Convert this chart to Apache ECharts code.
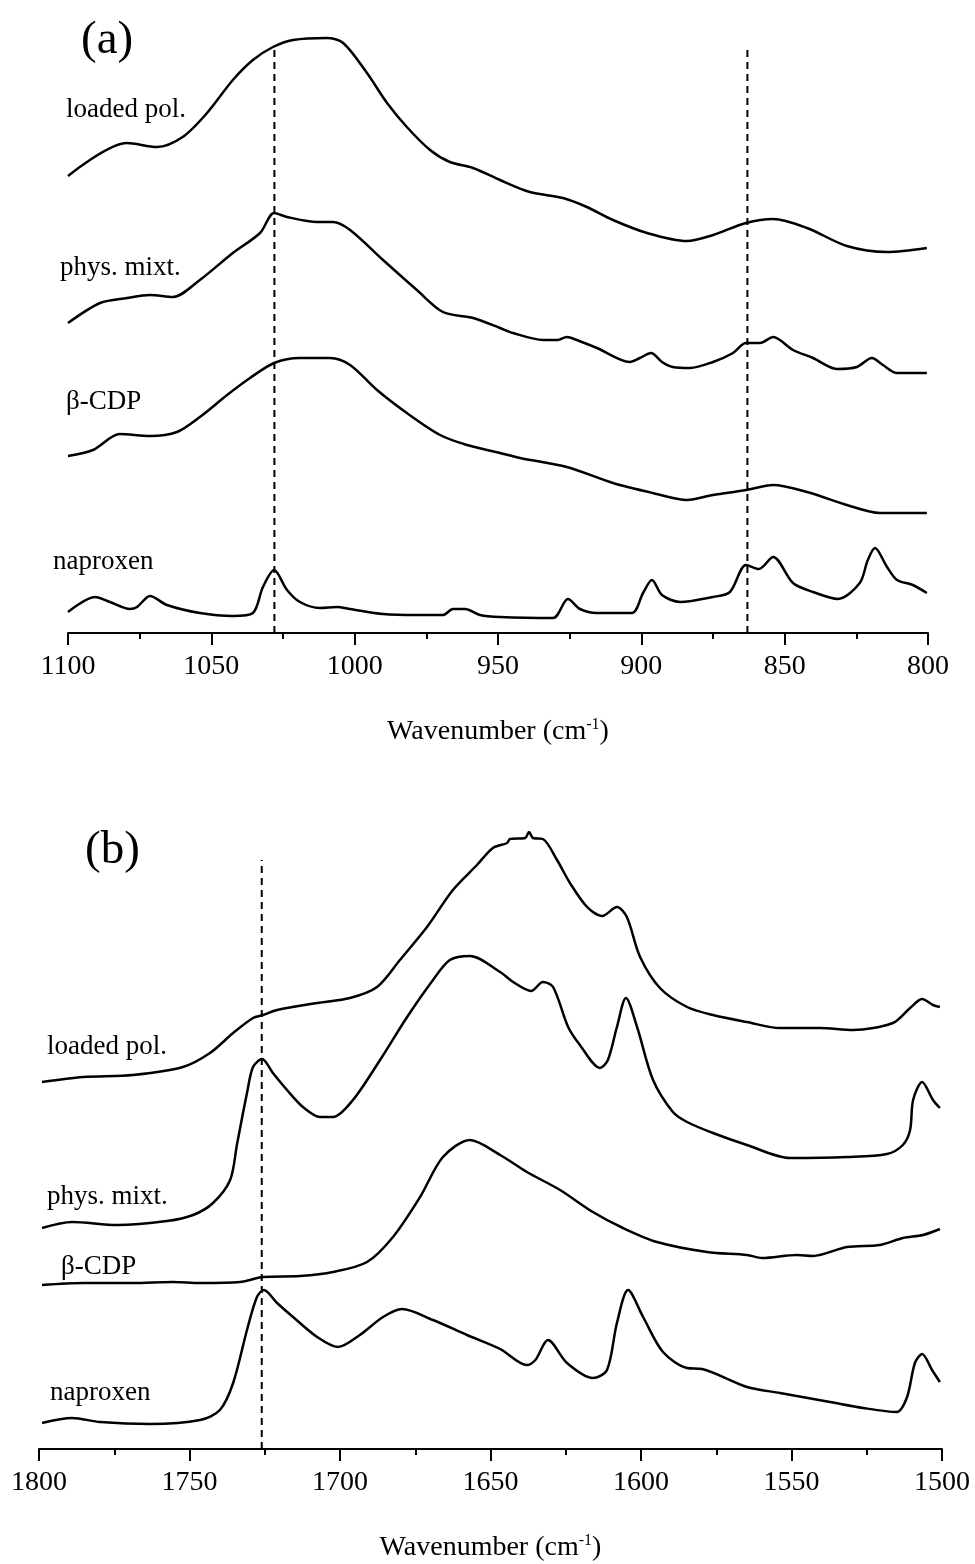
<!DOCTYPE html>
<html>
<head>
<meta charset="utf-8">
<script src="https://cdn.jsdelivr.net/npm/echarts@6/dist/echarts.min.js"></script>
<style>
  html, body { margin: 0; padding: 0; background: #fff; }
  #main { width: 975px; height: 1564px; }
</style>
</head>
<body>
<div id="main"></div>
<script>
// panel (a): 1100-800 cm-1, [wavenumber, relative absorbance]
var aLoaded = [[1100,457],[1079.4,490],[1069,486],[1060,496],[1051.5,520],[1042.5,553],[1035.5,573],[1028.5,586],[1021.5,593],[1009.7,595],[1004,590],[995.7,560],[988.7,530],[981.8,506],[973.7,483],[966.8,471],[958.7,465],[949.3,453],[938.9,441],[927.3,435],[919,426],[909.9,413],[898,400],[884.1,392],[875,398],[863.5,410],[854,414],[842.2,405],[828.3,387],[814.3,381],[800.4,385]];
var aPhys = [[1100,310],[1088.8,330],[1079.4,335],[1071.4,338],[1063.4,336],[1054,353],[1042.5,380],[1033,400],[1028.1,420],[1023.6,416],[1013.1,411],[1007.6,411],[1001.6,403],[990.1,373],[978.3,343],[969.2,321],[958.7,315],[949.3,305],[944.8,300],[934.3,293],[929.1,293],[926,296],[922.5,293],[915.5,285],[904,271],[900.5,275],[896.6,280],[892.8,271],[889,266],[883,265],[875,271],[868,280],[863.5,290],[858.6,290],[854,296],[847.1,283],[840.1,275],[831.8,264],[824.8,266],[819.6,275],[815.7,268],[810.8,260],[800.4,260]];
var aCdp = [[1100,177],[1091.3,183],[1081.9,199],[1071.4,197],[1062,201],[1054,216],[1044.5,238],[1036.5,255],[1028.1,270],[1019.1,275],[1008.6,275],[1001.6,268],[992.2,243],[981.8,220],[970.2,198],[960.8,188],[949.3,180],[942.3,175],[926,166],[909.9,150],[896,140],[884.1,133],[875,138],[863.5,143],[854,148],[842.2,141],[828.3,128],[816.8,120],[800.4,120]];
var aNap = [[1100,21],[1090.6,36],[1085.4,31],[1078.4,24],[1075.9,26],[1071.4,37],[1065.5,28],[1054,20],[1042.5,17],[1035.5,20],[1032,46],[1028.1,63],[1023.6,43],[1019.1,31],[1012.1,25],[1006.2,26],[1001.6,24],[990.1,19],[978.3,18],[969.2,18],[965.7,24],[961.5,24],[956.3,18],[949.3,16],[930.8,15],[925.6,34],[921.4,24],[915.5,20],[903.3,20],[899.4,40],[896.3,53],[892.8,38],[886.5,31],[875,36],[869.1,41],[863.5,68],[859,64],[854,76],[847.1,50],[840.1,41],[831.4,34],[823.8,50],[821,73],[818.5,85],[814.3,66],[810.8,53],[805.3,48],[800.4,40]];
var aMarks = [1028, 863];

// panel (b): 1800-1500 cm-1
var bLoaded = [[1799,367],[1785.4,372],[1768.8,374],[1752.2,382],[1743.2,396],[1735.5,416],[1728.9,431],[1725.6,434],[1720.9,439],[1707.6,446],[1696.7,451],[1687.7,462],[1680.1,489],[1671.1,522],[1662.5,559],[1654.5,584],[1649.2,601],[1644.5,606],[1643.5,610],[1638.5,611],[1637.2,617],[1635.9,611],[1632.6,610],[1627.9,589],[1623.6,566],[1617.9,542],[1612.9,533],[1608,542],[1604.7,532],[1600.3,492],[1593.7,461],[1584.7,442],[1576.1,434],[1564.8,427],[1553.8,421],[1540.5,421],[1529.6,419],[1516.3,426],[1510.6,441],[1506.6,450],[1503,444],[1500.7,442]];
var bPhys = [[1799,221],[1789,227],[1774.1,224],[1757.5,228],[1748.8,234],[1742.2,246],[1736.5,269],[1734.2,305],[1730.9,356],[1728.9,382],[1725.9,390],[1722.3,376],[1717.6,359],[1712.3,342],[1706.6,332],[1702.3,332],[1695.7,349],[1686.7,389],[1677.7,432],[1669.1,469],[1663.5,489],[1656.8,493],[1646.8,477],[1642.5,467],[1636.5,458],[1632.6,467],[1629.2,462],[1624.2,422],[1620.3,404],[1613.6,381],[1611,389],[1608,422],[1605,451],[1601.3,422],[1596,369],[1589.4,337],[1584.7,327],[1576.1,316],[1564.8,304],[1550.5,291],[1531.6,292],[1518.3,295],[1513,304],[1510.6,319],[1509.6,349],[1506.6,367],[1503,349],[1500.7,341]];
var bCdp = [[1799,164],[1785.4,166],[1768.8,166],[1755.5,167],[1746.5,166],[1733.2,167],[1725.6,172],[1713.3,173],[1702.3,177],[1691,187],[1682.4,212],[1673.4,252],[1665.8,292],[1656.8,309],[1646.8,294],[1637.9,277],[1626.9,259],[1616,237],[1606,221],[1594.7,207],[1578.1,197],[1564.8,194],[1559.8,191],[1548.2,194],[1542.9,193],[1531.6,202],[1520.6,204],[1513,211],[1506.3,214],[1500.7,220]];
var bNap = [[1799,26],[1789,31],[1779.7,27],[1763.1,25],[1746.5,29],[1739.9,39],[1735.5,66],[1730.9,119],[1727.6,152],[1725.3,159],[1720.9,146],[1715.6,132],[1707.6,112],[1700.7,102],[1693.4,114],[1685.7,132],[1679.4,140],[1669.1,129],[1657.8,114],[1646.8,100],[1637.9,84],[1635.1,89],[1630.9,109],[1624.6,86],[1616,71],[1611.3,79],[1608,126],[1604.3,159],[1599.3,132],[1592.7,97],[1584.7,81],[1579.7,80],[1564.8,62],[1553.8,56],[1537.2,47],[1526.2,41],[1515,37],[1511.6,52],[1509,86],[1506.6,95],[1503.3,79],[1500.7,67]];
var bMarks = [1726];

var curveNames = ['loaded pol.', 'phys. mixt.', '\u03b2-CDP', 'naproxen'];

var serif = '"Liberation Serif", "Times New Roman", serif';
var myChart = echarts.init(document.getElementById('main'));

function xAx(idx, mn, mx) {
  return {
    gridIndex: idx, type: 'value', min: mn, max: mx, interval: 50, inverse: true,
    axisLine: {lineStyle: {color: '#000', width: 2}},
    axisTick: {length: 12, lineStyle: {color: '#000', width: 2}},
    minorTick: {show: true, splitNumber: 2, length: 6, lineStyle: {color: '#000', width: 2}},
    splitLine: {show: false},
    axisLabel: {color: '#000', fontFamily: serif, fontSize: 28, margin: 20,
      formatter: function (v) { return String(v); }},
    name: '{t|Wavenumber (cm}{s|-1}{t|)}',
    nameLocation: 'middle', nameGap: 84,
    nameTextStyle: {
      rich: {
        t: {fontFamily: serif, fontSize: 28, color: '#000'},
        s: {fontFamily: serif, fontSize: 16, color: '#000', verticalAlign: 'top', padding: [0, 0, 14, 0]}
      }
    }
  };
}
function yAx(idx, mx) {
  return {gridIndex: idx, type: 'value', min: 0, max: mx, show: false};
}
function curve(idx, d) {
  return {type: 'line', xAxisIndex: idx, yAxisIndex: idx, data: d, showSymbol: false,
    smooth: 0.3, clip: false, lineStyle: {color: '#000', width: 2.5}, silent: true};
}
function dash(idx, wn, top) {
  return {type: 'line', xAxisIndex: idx, yAxisIndex: idx, data: [[wn, 0], [wn, top]], showSymbol: false,
    clip: false, lineStyle: {color: '#000', width: 2, type: [7, 5]}, silent: true};
}
function txt(s, x, y, size) {
  return {type: 'text', x: x, y: y, style: {text: s, font: size + 'px ' + serif, fill: '#000', verticalAlign: 'middle'}};
}

var series = [
  curve(0, aLoaded), curve(0, aPhys), curve(0, aCdp), curve(0, aNap),
  curve(1, bLoaded), curve(1, bPhys), curve(1, bCdp), curve(1, bNap)
];
aMarks.forEach(function (w) { series.push(dash(0, w, 585)); });
bMarks.forEach(function (w) { series.push(dash(1, w, 589)); });

option = {
  backgroundColor: '#fff',
  animation: false,
  grid: [
    {left: 68, right: 47, top: 30, bottom: 931},
    {left: 39, right: 33, top: 830, bottom: 115}
  ],
  xAxis: [xAx(0, 800, 1100), xAx(1, 1500, 1800)],
  yAxis: [yAx(0, 603), yAx(1, 619)],
  series: series,
  graphic: [
    txt('(a)', 81, 41, 47),
    txt(curveNames[0], 66, 110, 27),
    txt(curveNames[1], 60, 268, 27),
    txt(curveNames[2], 66, 402, 27),
    txt(curveNames[3], 53, 562, 27),
    txt('(b)', 85, 851, 47),
    txt(curveNames[0], 47, 1047, 27),
    txt(curveNames[1], 47, 1197, 27),
    txt(curveNames[2], 61, 1267, 27),
    txt(curveNames[3], 50, 1393, 27)
  ]
};
option && myChart.setOption(option);
</script>
</body>
</html>
